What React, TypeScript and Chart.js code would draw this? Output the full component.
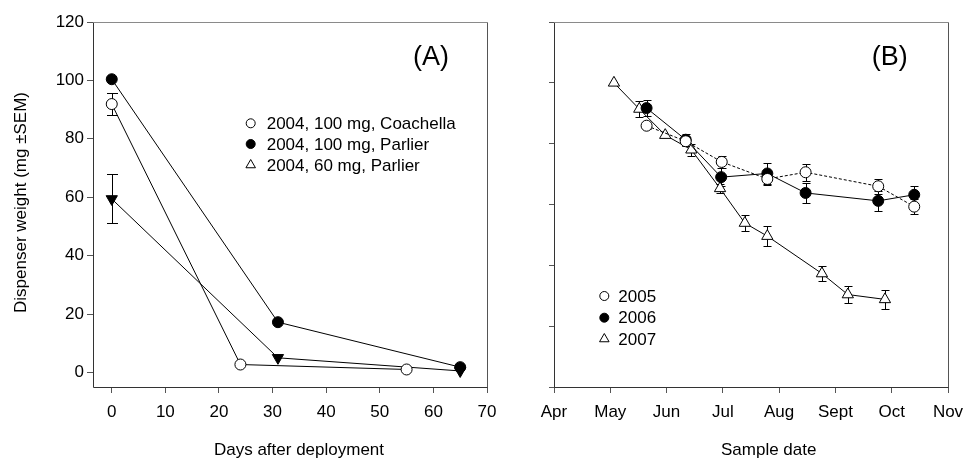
import React, { useEffect, useRef } from 'react';
import { Chart, registerables } from 'chart.js';

Chart.register(...registerables);

const FONT = "'Liberation Sans', Arial, Helvetica, sans-serif";

// ---------- Panel A data ----------
const daysTicksA = [0, 10, 20, 30, 40, 50, 60, 70];
const weightTicksA = [0, 20, 40, 60, 80, 100, 120];
const coachellaDays = [0, 24, 55];
const coachellaWeight = [91.9, 2.7, 1.0];
const coachellaSem = [3.9, 0, 0];
const parlier100Days = [0, 31, 65];
const parlier100Weight = [100.4, 17.2, 1.8];
const parlier100Sem = [0, 0, 0];
const parlier60Days = [0, 31, 65];
const parlier60Weight = [59.4, 5.0, 0.5];
const parlier60Sem = [8.4, 0, 0];
const legendA = ['2004, 100 mg, Coachella', '2004, 100 mg, Parlier', '2004, 60 mg, Parlier'];

// ---------- Panel B data (x = months after 1 April) ----------
const monthLabels = ['Apr', 'May', 'Jun', 'Jul', 'Aug', 'Sept', 'Oct', 'Nov'];
const monthTicks = [0, 1, 2, 3, 4, 5, 6, 7];
const weightTicksB = [0, 20, 40, 60, 80, 100, 120];
const date2005 = [1.645, 2.34, 2.98, 3.79, 4.47, 5.76, 6.4];
const weight2005 = [85.9, 80.8, 74.0, 68.4, 70.6, 66.0, 59.3];
const sem2005 = [1.0, 1.5, 2.0, 2.0, 2.8, 2.5, 2.5];
const date2006 = [1.645, 2.34, 2.97, 3.79, 4.47, 5.76, 6.4];
const weight2006 = [91.7, 81.3, 69.0, 70.2, 63.8, 61.2, 63.2];
const sem2006 = [2.7, 2.0, 3.0, 3.5, 3.2, 3.2, 3.0];
const date2007 = [1.065, 1.515, 1.976, 2.44, 2.95, 3.39, 3.79, 4.76, 5.22, 5.88];
const weight2007 = [100.0, 91.4, 82.8, 78.0, 65.3, 53.9, 49.6, 37.3, 30.4, 28.8];
const sem2007 = [0, 2.6, 0, 2.0, 1.5, 2.6, 3.2, 2.6, 2.7, 3.0];
const legendB = ['2005', '2006', '2007'];

const toPoints = (xs: number[], ys: number[]) => xs.map((x, i) => ({ x, y: ys[i] }));

const errorBarPlugin = {
  id: 'errorBars',
  beforeDatasetsDraw(chart: any, _args: any, opts: any) {
    const ctx = chart.ctx;
    const cap = opts.cap ?? 4;
    const ys = chart.scales.y;
    ctx.save();
    ctx.strokeStyle = '#000';
    ctx.lineWidth = 1;
    chart.data.datasets.forEach((ds: any, di: number) => {
      const errs: number[] | undefined = ds.errors;
      if (!errs) return;
      const meta = chart.getDatasetMeta(di);
      ds.data.forEach((p: any, i: number) => {
        const e = errs[i];
        if (!e) return;
        const x = Math.round(meta.data[i].x) + 0.5;
        const y1 = Math.round(ys.getPixelForValue(p.y + e)) + 0.5;
        const y2 = Math.round(ys.getPixelForValue(p.y - e)) + 0.5;
        ctx.beginPath();
        ctx.moveTo(x, y1);
        ctx.lineTo(x, y2);
        ctx.moveTo(x - cap, y1);
        ctx.lineTo(x + cap, y1);
        ctx.moveTo(x - cap, y2);
        ctx.lineTo(x + cap, y2);
        ctx.stroke();
      });
    });
    ctx.restore();
  },
};

type Marker = 'openCircle' | 'filledCircle' | 'openTriangle';

function drawMarker(ctx: CanvasRenderingContext2D, kind: Marker, x: number, y: number) {
  ctx.beginPath();
  if (kind === 'openTriangle') {
    const r = 5.5;
    ctx.moveTo(x, y - r);
    ctx.lineTo(x + r * Math.sin((2 * Math.PI) / 3), y - r * Math.cos((2 * Math.PI) / 3));
    ctx.lineTo(x + r * Math.sin((4 * Math.PI) / 3), y - r * Math.cos((4 * Math.PI) / 3));
    ctx.closePath();
  } else {
    ctx.arc(x, y, 4.5, 0, Math.PI * 2);
  }
  ctx.fillStyle = kind === 'filledCircle' ? '#000' : '#fff';
  ctx.fill();
  ctx.strokeStyle = '#000';
  ctx.lineWidth = 1;
  ctx.stroke();
}

function makeOverlay(cfg: {
  legend: string[];
  markers: Marker[];
  markerX: number;
  textX: number;
  rows: number[];
  label: string;
  labelX: number;
  labelY: number;
  xTitle: string;
  xTitleX: number;
  xTitleY: number;
  yTitle?: string;
  yTitleX?: number;
  yTitleY?: number;
}) {
  return {
    id: 'overlay',
    afterDraw(chart: any) {
      const ctx: CanvasRenderingContext2D = chart.ctx;
      const a = chart.chartArea;
      ctx.save();
      // frame
      const L = Math.round(a.left) + 0.5;
      const R = Math.round(a.right) + 0.5;
      const T = Math.round(a.top) + 0.5;
      const B = Math.round(a.bottom) + 0.5;
      ctx.lineWidth = 1;
      ctx.strokeStyle = '#8a8a8a';
      ctx.beginPath();
      ctx.moveTo(L, T);
      ctx.lineTo(R, T);
      ctx.stroke();
      ctx.strokeStyle = '#555';
      ctx.beginPath();
      ctx.moveTo(R, T);
      ctx.lineTo(R, B);
      ctx.stroke();
      ctx.strokeStyle = '#333';
      ctx.beginPath();
      ctx.moveTo(L, T);
      ctx.lineTo(L, B);
      ctx.lineTo(R, B);
      ctx.stroke();

      // legend
      ctx.font = `17px ${FONT}`;
      ctx.textBaseline = 'middle';
      ctx.textAlign = 'left';
      cfg.legend.forEach((t, i) => {
        drawMarker(ctx, cfg.markers[i], cfg.markerX, cfg.rows[i]);
        ctx.fillStyle = '#000';
        ctx.fillText(t, cfg.textX, cfg.rows[i] + 1);
      });

      // panel label
      ctx.font = `27px ${FONT}`;
      ctx.fillStyle = '#000';
      ctx.fillText(cfg.label, cfg.labelX, cfg.labelY);

      // axis titles
      ctx.font = `17px ${FONT}`;
      ctx.textAlign = 'center';
      ctx.fillText(cfg.xTitle, cfg.xTitleX, cfg.xTitleY);
      if (cfg.yTitle) {
        ctx.translate(cfg.yTitleX!, cfg.yTitleY!);
        ctx.rotate(-Math.PI / 2);
        ctx.fillText(cfg.yTitle, 0, 0);
      }
      ctx.restore();
    },
  };
}

function axisX(min: number, max: number, ticks: number[], labels?: string[]) {
  return {
    type: 'linear' as const,
    position: 'bottom' as const,
    min,
    max,
    afterBuildTicks: (s: any) => {
      s.ticks = ticks.map((v) => ({ value: v }));
    },
    afterFit: (s: any) => {
      s.height = 74;
      s.paddingLeft = 0;
      s.paddingRight = 0;
    },
    ticks: {
      autoSkip: false,
      maxRotation: 0,
      padding: 9,
      color: '#000',
      font: { family: FONT, size: 17 },
      callback: (v: any) => (labels ? labels[ticks.indexOf(Number(v))] ?? '' : String(v)),
    },
    grid: { drawOnChartArea: false, drawTicks: true, tickLength: 6, color: '#555', lineWidth: 1 },
    border: { display: false },
  };
}

function axisY(min: number, max: number, ticks: number[], width: number, showLabels: boolean) {
  return {
    type: 'linear' as const,
    position: 'left' as const,
    min,
    max,
    afterBuildTicks: (s: any) => {
      s.ticks = ticks.map((v) => ({ value: v }));
    },
    afterFit: (s: any) => {
      s.width = width;
      s.paddingTop = 0;
      s.paddingBottom = 0;
    },
    ticks: {
      display: showLabels,
      padding: 3,
      color: '#000',
      font: { family: FONT, size: 17 },
    },
    grid: { drawOnChartArea: false, drawTicks: true, tickLength: showLabels ? 6 : 5, color: '#555', lineWidth: 1 },
    border: { display: false },
  };
}

const lineBase = {
  borderColor: '#000',
  borderWidth: 1,
  tension: 0,
  pointBorderColor: '#000',
  pointBorderWidth: 1,
  fill: false,
};

export default function App() {
  const refA = useRef<HTMLCanvasElement>(null);
  const refB = useRef<HTMLCanvasElement>(null);

  useEffect(() => {
    document.body.style.margin = '0';
    Chart.defaults.font.family = FONT;

    const chartA = new Chart(refA.current!, {
      type: 'line',
      data: {
        datasets: [
          {
            ...lineBase,
            label: legendA[0],
            data: toPoints(coachellaDays, coachellaWeight),
            errors: coachellaSem,
            pointStyle: 'circle',
            pointRadius: 5.5,
            pointBackgroundColor: '#fff',
          } as any,
          {
            ...lineBase,
            label: legendA[1],
            data: toPoints(parlier100Days, parlier100Weight),
            errors: parlier100Sem,
            pointStyle: 'circle',
            pointRadius: 5.5,
            pointBackgroundColor: '#000',
          } as any,
          {
            ...lineBase,
            label: legendA[2],
            data: toPoints(parlier60Days, parlier60Weight),
            errors: parlier60Sem,
            pointStyle: 'triangle',
            pointRotation: 180,
            pointRadius: 6.5,
            pointBackgroundColor: '#000',
          } as any,
        ],
      },
      options: {
        responsive: false,
        animation: false,
        events: [],
        layout: { padding: { left: 0, top: 22, right: 13, bottom: 0 } },
        scales: {
          x: axisX(-3.5, 70, daysTicksA),
          y: axisY(-5, 120, weightTicksA, 93, true),
        },
        plugins: {
          legend: { display: false },
          tooltip: { enabled: false },
          errorBars: { cap: 5.5 },
        } as any,
      },
      plugins: [
        errorBarPlugin,
        makeOverlay({
          legend: legendA,
          markers: ['openCircle', 'filledCircle', 'openTriangle'],
          markerX: 250.7,
          textX: 266.7,
          rows: [123.3, 144, 165],
          label: '(A)',
          labelX: 413,
          labelY: 58,
          xTitle: 'Days after deployment',
          xTitleX: 299,
          xTitleY: 450,
          yTitle: 'Dispenser weight (mg ±SEM)',
          yTitleX: 21,
          yTitleY: 202.5,
        }),
      ],
    });

    const chartB = new Chart(refB.current!, {
      type: 'line',
      data: {
        datasets: [
          {
            ...lineBase,
            label: legendB[0],
            data: toPoints(date2005, weight2005),
            errors: sem2005,
            borderDash: [3, 2],
            pointStyle: 'circle',
            pointRadius: 5.5,
            pointBackgroundColor: '#fff',
          } as any,
          {
            ...lineBase,
            label: legendB[1],
            data: toPoints(date2006, weight2006),
            errors: sem2006,
            pointStyle: 'circle',
            pointRadius: 5.5,
            pointBackgroundColor: '#000',
          } as any,
          {
            ...lineBase,
            label: legendB[2],
            data: toPoints(date2007, weight2007),
            errors: sem2007,
            pointStyle: 'triangle',
            pointRadius: 6.5,
            pointBackgroundColor: '#fff',
          } as any,
        ],
      },
      options: {
        responsive: false,
        animation: false,
        events: [],
        layout: { padding: { left: 0, top: 22, right: 15, bottom: 0 } },
        scales: {
          x: axisX(0, 7, monthTicks, monthLabels),
          y: axisY(0, 120, weightTicksB, 54, false),
        },
        plugins: {
          legend: { display: false },
          tooltip: { enabled: false },
          errorBars: { cap: 4 },
        } as any,
      },
      plugins: [
        errorBarPlugin,
        makeOverlay({
          legend: legendB,
          markers: ['openCircle', 'filledCircle', 'openTriangle'],
          markerX: 104.3,
          textX: 118.3,
          rows: [296, 317.7, 339],
          label: '(B)',
          labelX: 371.7,
          labelY: 58,
          xTitle: 'Sample date',
          xTitleX: 268.7,
          xTitleY: 450,
        }),
      ],
    });

    return () => {
      chartA.destroy();
      chartB.destroy();
    };
  }, []);

  return (
    <div style={{ position: 'relative', width: 963, height: 461, background: '#fff', overflow: 'hidden' }}>
      <canvas ref={refA} width={500} height={461} style={{ position: 'absolute', left: 0, top: 0, width: 500, height: 461 }} />
      <canvas ref={refB} width={463} height={461} style={{ position: 'absolute', left: 500, top: 0, width: 463, height: 461 }} />
    </div>
  );
}
